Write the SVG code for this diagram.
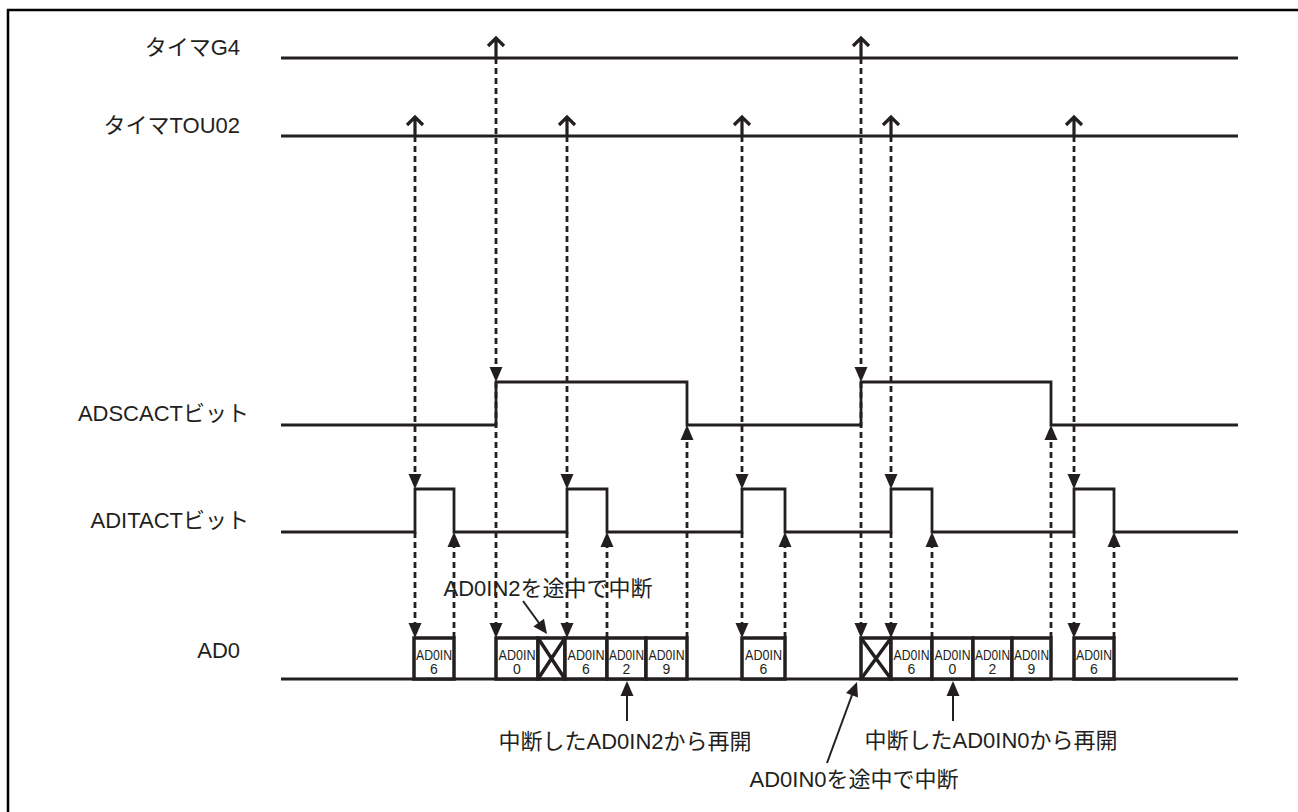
<svg xmlns="http://www.w3.org/2000/svg" xmlns:xlink="http://www.w3.org/1999/xlink" width="1298" height="812" viewBox="0 0 1298 812">
<style>
.lbl{font-family:"Liberation Sans","Noto Sans CJK JP",sans-serif;font-size:22px;fill:#231f20}
.bx{font-family:"Liberation Sans",sans-serif;font-size:14px;fill:#231f20;text-anchor:middle}
.sig{fill:none;stroke:#231f20;stroke-width:2.8;stroke-linejoin:miter}
.box{fill:#fff;stroke:#231f20;stroke-width:3.5}
.dash{fill:none;stroke:#231f20;stroke-width:2.8;stroke-dasharray:6 4}
.sol{fill:none;stroke:#231f20;stroke-width:2}
.chev{fill:none;stroke:#231f20;stroke-width:3.2;stroke-linejoin:miter}
.ah{fill:#231f20}
</style>
<defs>
<path id="ahd" class="ah" d="M0,0 L-6.5,-15 L6.5,-15 Z"/>
<path id="ahu" class="ah" d="M0,0 L-6.5,15 L6.5,15 Z"/>
</defs>
<rect x="8" y="10" width="1300" height="810" fill="#fff" stroke="#000" stroke-width="2.5"/>

<g id="labels">
<text class="lbl" x="240" y="55" text-anchor="end">タイマG4</text>
<text class="lbl" x="240" y="133" text-anchor="end">タイマTOU02</text>
<text class="lbl" x="249" y="421" text-anchor="end">ADSCACTビット</text>
<text class="lbl" x="249" y="528" text-anchor="end">ADITACTビット</text>
<text class="lbl" x="240" y="658" text-anchor="end">AD0</text>
</g>

<g id="signal-g4"><path class="sig" d="M281,58 H1238"/></g>
<g id="signal-tou02"><path class="sig" d="M281,136 H1238"/></g>
<g id="signal-adscact"><path class="sig" d="M281,425 H496 V382 H687 V425 H861 V382 H1051 V425 H1238"/></g>
<g id="signal-aditact"><path class="sig" d="M281,532 H415 V489 H454 V532 H567 V489 H607 V532 H742 V489 H785 V532 H891 V489 H932 V532 H1074 V489 H1114 V532 H1238"/></g>
<g id="signal-ad0"><path class="sig" d="M281,679 H1238"/></g>

<g id="connectors">
<path class="chev" d="M496,58 V38 M488,46 L496,38 L504,46"/>
<path class="dash" d="M496,58 V368 M496,382 V624"/>
<use xlink:href="#ahd" x="496" y="382"/>
<use xlink:href="#ahd" x="496" y="638"/>
<path class="chev" d="M861,58 V38 M853,46 L861,38 L869,46"/>
<path class="dash" d="M861,58 V368 M861,382 V624"/>
<use xlink:href="#ahd" x="861" y="382"/>
<use xlink:href="#ahd" x="861" y="638"/>
<path class="chev" d="M415,136 V117 M407,125 L415,117 L423,125"/>
<path class="dash" d="M415,136 V475 M415,532 V624"/>
<use xlink:href="#ahd" x="415" y="489"/>
<use xlink:href="#ahd" x="415" y="638"/>
<path class="chev" d="M567,136 V117 M559,125 L567,117 L575,125"/>
<path class="dash" d="M567,136 V475 M567,532 V624"/>
<use xlink:href="#ahd" x="567" y="489"/>
<use xlink:href="#ahd" x="567" y="638"/>
<path class="chev" d="M742,136 V117 M734,125 L742,117 L750,125"/>
<path class="dash" d="M742,136 V475 M742,532 V624"/>
<use xlink:href="#ahd" x="742" y="489"/>
<use xlink:href="#ahd" x="742" y="638"/>
<path class="chev" d="M891,136 V117 M883,125 L891,117 L899,125"/>
<path class="dash" d="M891,136 V475 M891,532 V624"/>
<use xlink:href="#ahd" x="891" y="489"/>
<use xlink:href="#ahd" x="891" y="638"/>
<path class="chev" d="M1074,136 V117 M1066,125 L1074,117 L1082,125"/>
<path class="dash" d="M1074,136 V475 M1074,532 V624"/>
<use xlink:href="#ahd" x="1074" y="489"/>
<use xlink:href="#ahd" x="1074" y="638"/>
<path class="dash" d="M454,638 V546"/><use xlink:href="#ahu" x="454" y="532"/>
<path class="dash" d="M607,638 V546"/><use xlink:href="#ahu" x="607" y="532"/>
<path class="dash" d="M785,638 V546"/><use xlink:href="#ahu" x="785" y="532"/>
<path class="dash" d="M932,638 V546"/><use xlink:href="#ahu" x="932" y="532"/>
<path class="dash" d="M1114,638 V546"/><use xlink:href="#ahu" x="1114" y="532"/>
<path class="dash" d="M687,638 V439"/><use xlink:href="#ahu" x="687" y="425"/>
<path class="dash" d="M1051,638 V439"/><use xlink:href="#ahu" x="1051" y="425"/>
<path class="sol" d="M523,601 L539,623"/>
<path class="ah" d="M547,634 L533.4,626.5 L544,618.8 Z"/>
<path class="sol" d="M627,721 V695"/><use xlink:href="#ahu" x="627" y="681"/>
<path class="sol" d="M953,721 V695"/><use xlink:href="#ahu" x="953" y="681"/>
<path class="sol" d="M827,763 L852,695"/>
<path class="ah" d="M857,682 L858,697.5 L846,693 Z"/>
</g>

<g id="ad0-boxes-1">
<rect class="box" x="414" y="638" width="40" height="41"/>
<text class="bx" x="434" y="660" textLength="36" lengthAdjust="spacingAndGlyphs">AD0IN</text><text class="bx" x="434" y="674">6</text>
<rect class="box" x="496" y="638" width="42" height="41"/>
<text class="bx" x="517" y="660" textLength="37" lengthAdjust="spacingAndGlyphs">AD0IN</text><text class="bx" x="517" y="674">0</text>
<rect class="box" x="538" y="638" width="27" height="41"/>
<path class="box" d="M538,638 L565,679 M565,638 L538,679"/>
<rect class="box" x="565" y="638" width="42" height="41"/>
<text class="bx" x="586" y="660" textLength="37" lengthAdjust="spacingAndGlyphs">AD0IN</text><text class="bx" x="586" y="674">6</text>
<rect class="box" x="607" y="638" width="39" height="41"/>
<text class="bx" x="626.5" y="660" textLength="35" lengthAdjust="spacingAndGlyphs">AD0IN</text><text class="bx" x="626.5" y="674">2</text>
<rect class="box" x="646" y="638" width="41" height="41"/>
<text class="bx" x="666.5" y="660" textLength="36" lengthAdjust="spacingAndGlyphs">AD0IN</text><text class="bx" x="666.5" y="674">9</text>
</g>
<g id="ad0-boxes-2">
<rect class="box" x="742" y="638" width="43" height="41"/>
<text class="bx" x="763.5" y="660" textLength="37" lengthAdjust="spacingAndGlyphs">AD0IN</text><text class="bx" x="763.5" y="674">6</text>
</g>
<g id="ad0-boxes-3">
<rect class="box" x="861" y="638" width="30" height="41"/>
<path class="box" d="M861,638 L891,679 M891,638 L861,679"/>
<rect class="box" x="891" y="638" width="41" height="41"/>
<text class="bx" x="911.5" y="660" textLength="36" lengthAdjust="spacingAndGlyphs">AD0IN</text><text class="bx" x="911.5" y="674">6</text>
<rect class="box" x="932" y="638" width="41" height="41"/>
<text class="bx" x="952.5" y="660" textLength="36" lengthAdjust="spacingAndGlyphs">AD0IN</text><text class="bx" x="952.5" y="674">0</text>
<rect class="box" x="973" y="638" width="39" height="41"/>
<text class="bx" x="992.5" y="660" textLength="35" lengthAdjust="spacingAndGlyphs">AD0IN</text><text class="bx" x="992.5" y="674">2</text>
<rect class="box" x="1012" y="638" width="39" height="41"/>
<text class="bx" x="1031.5" y="660" textLength="35" lengthAdjust="spacingAndGlyphs">AD0IN</text><text class="bx" x="1031.5" y="674">9</text>
</g>
<g id="ad0-boxes-4">
<rect class="box" x="1074" y="638" width="40" height="41"/>
<text class="bx" x="1094" y="660" textLength="36" lengthAdjust="spacingAndGlyphs">AD0IN</text><text class="bx" x="1094" y="674">6</text>
</g>

<g id="annotations">
<text class="lbl" x="548" y="596" text-anchor="middle">AD0IN2を途中で中断</text>
<text class="lbl" x="625" y="749" text-anchor="middle">中断したAD0IN2から再開</text>
<text class="lbl" x="991" y="748" text-anchor="middle">中断したAD0IN0から再開</text>
<text class="lbl" x="854" y="787" text-anchor="middle">AD0IN0を途中で中断</text>
</g>
</svg>
